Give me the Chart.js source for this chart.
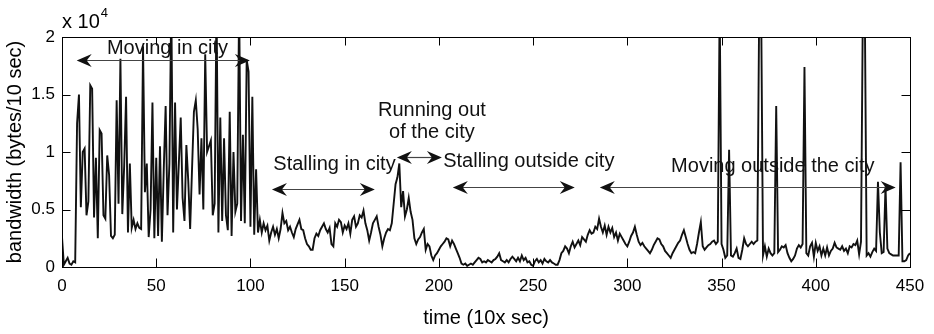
<!DOCTYPE html>
<html>
<head>
<meta charset="utf-8">
<script src="https://cdn.jsdelivr.net/npm/chart.js@4.4.0/dist/chart.umd.min.js"></script>
<style>
  body { margin: 0; background: #fff; }
</style>
</head>
<body>
<canvas id="chart" width="934" height="334"></canvas>
<script>
// bandwidth in units of 10^4 bytes / 10 sec, one sample per time step (0..450)
const bandwidth = [
  0.26, 0.02, 0.05, 0.08, 0.03, 0.02, 0.05, 0.04, 1.25, 1.5,
  0.52, 1.0, 1.03, 0.45, 0.57, 1.58, 1.55, 0.43, 0.95, 0.25,
  1.19, 1.16, 0.45, 0.42, 0.97, 0.8, 0.27, 0.25, 0.28, 1.45,
  0.55, 1.81, 0.46, 0.88, 1.48, 0.3, 0.9, 0.34, 0.41, 0.33,
  0.38, 0.34, 0.33, 1.92, 0.65, 0.9, 0.26, 0.5, 1.43, 0.25,
  0.95, 0.27, 1.05, 0.22, 0.85, 1.4, 0.45, 0.9, 2.3, 0.3,
  1.43, 0.5, 0.9, 1.3, 0.6, 0.4, 1.06, 0.75, 0.33, 0.85,
  1.35, 1.45, 1.2, 0.63, 1.12, 0.5, 1.85, 1.0, 1.05, 1.1,
  0.45, 0.55, 2.3, 0.3, 1.3, 0.4, 1.12, 0.45, 0.32, 1.35,
  0.27, 1.0, 0.48, 0.55, 2.3, 0.4, 1.15, 0.38, 1.8, 1.7,
  0.35, 1.48, 0.28, 0.85, 0.3, 0.41, 0.3, 0.38, 0.32, 0.36,
  0.23, 0.3, 0.35, 0.28, 0.33, 0.25, 0.33, 0.47, 0.38, 0.4,
  0.32, 0.35, 0.3, 0.26, 0.33, 0.37, 0.41, 0.33, 0.32, 0.25,
  0.2, 0.18, 0.15, 0.15, 0.25, 0.29, 0.27, 0.32, 0.35, 0.38,
  0.33, 0.3, 0.34, 0.2, 0.18, 0.38, 0.35, 0.41, 0.39, 0.3,
  0.36, 0.33, 0.38, 0.29, 0.41, 0.44, 0.35, 0.38, 0.45, 0.43,
  0.49, 0.38, 0.32, 0.23, 0.3, 0.38, 0.41, 0.44, 0.35, 0.28,
  0.18, 0.25, 0.3, 0.33, 0.32, 0.38, 0.55, 0.72, 0.78, 0.9,
  0.52, 0.66, 0.44, 0.5, 0.6, 0.48, 0.41, 0.25, 0.2, 0.24,
  0.26, 0.3, 0.33, 0.15, 0.2, 0.18, 0.1, 0.06, 0.1, 0.12,
  0.15, 0.18, 0.2, 0.22, 0.25, 0.24, 0.18, 0.23, 0.2, 0.16,
  0.12, 0.08, 0.03, 0.02, 0.03, 0.01, 0.02, 0.03, 0.02, 0.04,
  0.06, 0.08, 0.07, 0.04, 0.05, 0.04, 0.06, 0.05, 0.04, 0.06,
  0.07, 0.09, 0.12, 0.06, 0.05, 0.04, 0.06, 0.04, 0.07, 0.09,
  0.07, 0.05, 0.08, 0.05, 0.1, 0.06, 0.08, 0.04, 0.05, 0.02,
  0.01, 0.05, 0.07, 0.04, 0.06, 0.03, 0.07, 0.05, 0.04, 0.06,
  0.04, 0.03, 0.02, 0.02, 0.06, 0.12, 0.14, 0.18, 0.16, 0.12,
  0.18, 0.22, 0.17, 0.2, 0.23, 0.19, 0.26, 0.24, 0.22, 0.28,
  0.32, 0.29, 0.3, 0.35, 0.33, 0.42, 0.35, 0.3, 0.36, 0.28,
  0.35, 0.3, 0.34, 0.26, 0.3, 0.23, 0.29, 0.26, 0.23, 0.2,
  0.18, 0.22, 0.27, 0.3, 0.35, 0.28, 0.22, 0.19, 0.21, 0.18,
  0.16, 0.14, 0.12, 0.15, 0.19, 0.22, 0.25, 0.24, 0.2, 0.18,
  0.14, 0.12, 0.1, 0.08, 0.12, 0.15, 0.18, 0.21, 0.23, 0.28,
  0.32, 0.26, 0.2, 0.15, 0.12, 0.13, 0.12, 0.2, 0.3, 0.39,
  0.18, 0.15, 0.17, 0.19, 0.2, 0.22, 0.23, 0.2, 0.22, 2.3,
  0.2, 0.15, 0.08, 0.1, 1.02, 0.1, 0.09, 0.12, 0.16, 0.08,
  0.07, 0.15, 0.25, 0.2, 0.18, 0.2, 0.22, 0.2, 0.22, 0.23,
  2.3, 2.3, 0.1, 0.18, 0.09, 0.16, 0.12, 0.1, 0.12, 1.4,
  0.13, 0.15, 0.18, 0.17, 0.19, 0.12, 0.08, 0.05, 0.07, 0.1,
  0.16, 0.19, 0.17, 0.2, 1.74, 0.12, 0.1, 0.18, 0.21, 0.09,
  0.21, 0.14, 0.18, 0.1, 0.16, 0.1, 0.17, 0.1, 0.14, 0.16,
  0.21, 0.17, 0.16, 0.15, 0.18, 0.14, 0.16, 0.12, 0.18, 0.17,
  0.2, 0.19, 0.23, 0.11, 0.22, 2.3, 2.3, 0.1, 0.12, 0.09,
  0.13, 0.16, 0.14, 0.74, 0.3, 0.12, 0.13, 0.7, 0.16, 0.12,
  0.11, 0.1, 0.1, 0.1, 0.1, 0.91, 0.05, 0.05, 0.06, 0.1,
  0.12
];
const xTicks = [0, 50, 100, 150, 200, 250, 300, 350, 400, 450];
const yTicks = [0, 0.5, 1, 1.5, 2];
const phases = ['Moving in city', 'Stalling in city', 'Running out\nof the city',
                'Stalling outside city', 'Moving outside the city'];

// where each phase label and its arrow sit, in data units (time, bandwidth)
const phaseMarks = [
  { tx: 56, ty: 1.9, from: 7.8, to: 99.7, ay: 1.8 },
  { tx: 144.6, ty: 0.89, from: 111.4, to: 166, ay: 0.68 },
  { tx: 196.3, ty: 1.365, from: 177.7, to: 201.6, ay: 0.957 },
  { tx: 247.7, ty: 0.92, from: 207.4, to: 272.1, ay: 0.70 },
  { tx: 377.2, ty: 0.87, from: 285.4, to: 442.4, ay: 0.70 }
];

const FONT = '"Liberation Sans", Arial, Helvetica, sans-serif';
const points = bandwidth.map((v, i) => ({ x: i, y: v }));

function arrowHead(ctx, x, y, dir) {
  const L = 15, W = 6.5, back = 5;
  ctx.beginPath();
  ctx.moveTo(x, y);
  ctx.lineTo(x - dir * L, y - W);
  ctx.lineTo(x - dir * (L - back), y);
  ctx.lineTo(x - dir * L, y + W);
  ctx.closePath();
  ctx.fill();
}

const matlabFrame = {
  id: 'matlabFrame',
  afterDraw(chart) {
    const ctx = chart.ctx;
    const { left, right, top, bottom } = chart.chartArea;
    const xs = chart.scales.x, ys = chart.scales.y;
    ctx.save();
    ctx.strokeStyle = '#000';
    ctx.lineWidth = 1;
    ctx.strokeRect(left + 0.5, top + 0.5, right - left, bottom - top);
    const tl = 8.5;
    ctx.beginPath();
    xTicks.forEach(v => {
      const px = Math.round(xs.getPixelForValue(v)) + 0.5;
      ctx.moveTo(px, bottom); ctx.lineTo(px, bottom - tl);
      ctx.moveTo(px, top); ctx.lineTo(px, top + tl);
    });
    yTicks.forEach(v => {
      const py = Math.round(ys.getPixelForValue(v)) + 0.5;
      ctx.moveTo(left, py); ctx.lineTo(left + tl, py);
      ctx.moveTo(right, py); ctx.lineTo(right - tl, py);
    });
    ctx.stroke();

    // exponent label
    ctx.fillStyle = '#000';
    ctx.textBaseline = 'alphabetic';
    ctx.textAlign = 'left';
    ctx.font = '20px ' + FONT;
    ctx.fillText('x 10', left, 28);
    const w = ctx.measureText('x 10').width;
    ctx.font = '13px ' + FONT;
    ctx.fillText('4', left + w + 1, 17);

    // phase annotations
    phaseMarks.forEach((m, i) => {
      const x1 = xs.getPixelForValue(m.from), x2 = xs.getPixelForValue(m.to);
      const ay = Math.round(ys.getPixelForValue(m.ay)) + 0.5;
      ctx.strokeStyle = '#444';
      ctx.lineWidth = 1.2;
      ctx.beginPath();
      ctx.moveTo(x1 + 8, ay); ctx.lineTo(x2 - 8, ay);
      ctx.stroke();
      ctx.fillStyle = '#111';
      arrowHead(ctx, x1, ay, -1);
      arrowHead(ctx, x2, ay, 1);

      ctx.font = '20px ' + FONT;
      ctx.textAlign = 'center';
      ctx.textBaseline = 'middle';
      const lines = phases[i].split('\n');
      const cx = xs.getPixelForValue(m.tx), cy = ys.getPixelForValue(m.ty);
      lines.forEach((s, k) => ctx.fillText(s, cx, cy + k * 22));
    });
    ctx.restore();
  }
};

new Chart(document.getElementById('chart'), {
  type: 'line',
  data: {
    datasets: [{
      data: points,
      borderColor: '#111',
      borderWidth: 1.9,
      pointRadius: 0,
      tension: 0,
      clip: 0
    }]
  },
  options: {
    responsive: false,
    animation: false,
    devicePixelRatio: 1,
    layout: { padding: { top: 37, right: 24, left: 0, bottom: 0 } },
    plugins: { legend: { display: false }, tooltip: { enabled: false } },
    scales: {
      x: {
        type: 'linear',
        min: 0, max: 450,
        afterFit: s => { s.height = 67; },
        afterBuildTicks: s => { s.ticks = xTicks.map(v => ({ value: v })); },
        grid: { display: false, drawTicks: false },
        border: { display: false },
        ticks: { color: '#000', padding: 9, font: { size: 17, family: FONT }, maxRotation: 0 },
        title: { display: true, text: 'time (10x sec)', color: '#000',
                 font: { size: 20, family: FONT }, padding: { top: 0, bottom: 4 } }
      },
      y: {
        min: 0, max: 2,
        afterFit: s => { s.width = 62; },
        afterBuildTicks: s => { s.ticks = yTicks.map(v => ({ value: v })); },
        grid: { display: false, drawTicks: false },
        border: { display: false },
        ticks: { color: '#000', padding: 7, font: { size: 17, family: FONT },
                 callback: v => String(v) },
        title: { display: true, text: 'bandwidth (bytes/10 sec)', color: '#000',
                 font: { size: 20, family: FONT }, padding: { top: 3, bottom: 0 } }
      }
    }
  },
  plugins: [matlabFrame]
});
</script>
</body>
</html>
